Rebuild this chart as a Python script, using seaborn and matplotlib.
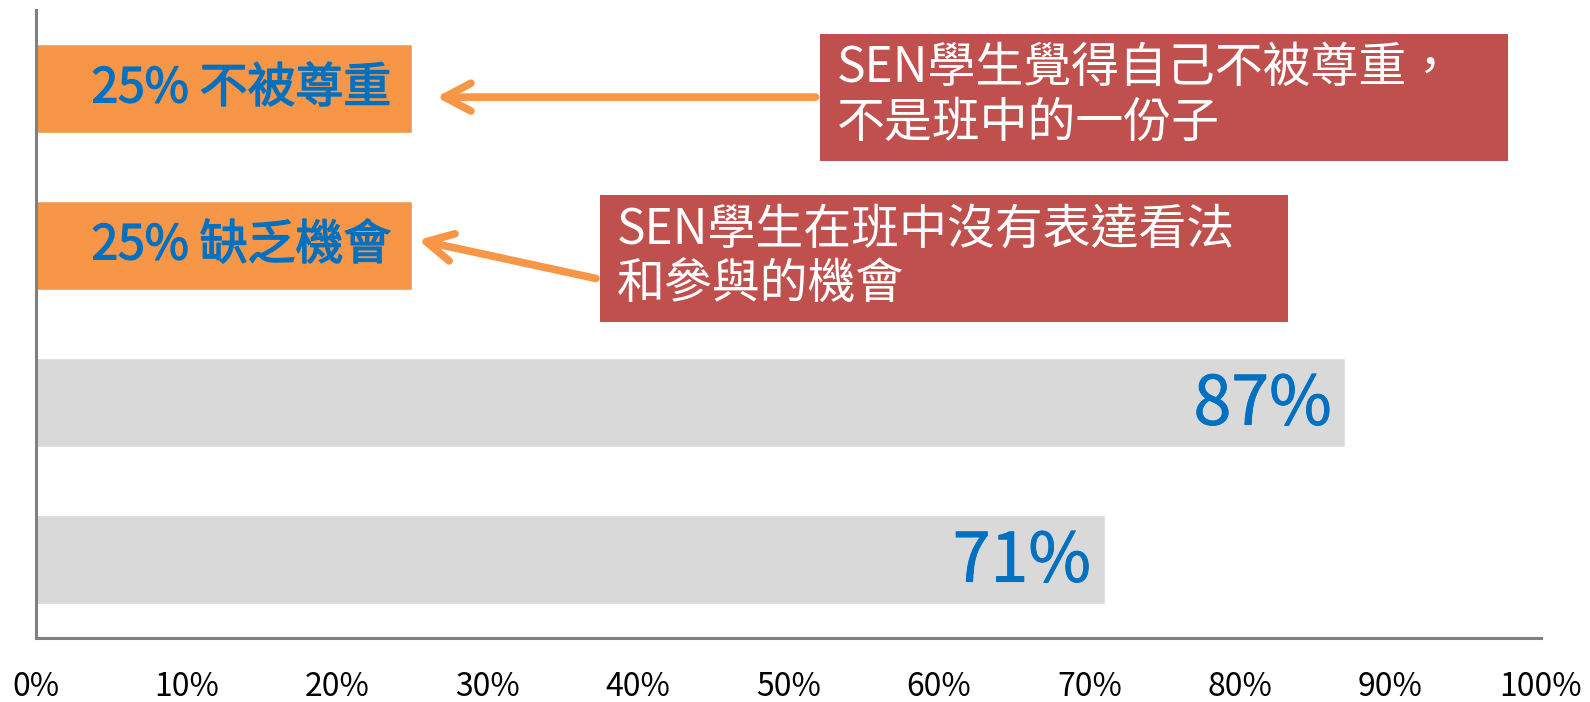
import matplotlib
matplotlib.use("Agg")
import matplotlib.pyplot as plt
import matplotlib.patheffects as pe
from matplotlib.patches import Rectangle
import seaborn as sns
import pandas as pd

# Datos del gráfico
categorias = ["不被尊重", "缺乏機會", "總體A", "總體B"]
valores = [25, 25, 87, 71]
colores = ["#F79646", "#F79646", "#D9D9D9", "#D9D9D9"]
etiquetas = ["25% 不被尊重", "25% 缺乏機會", "87%", "71%"]
ticks_x = [0, 10, 20, 30, 40, 50, 60, 70, 80, 90, 100]
notas = ["SEN學生覺得自己不被尊重，\n不是班中的一份子",
         "SEN學生在班中沒有表達看法\n和參與的機會"]

sns.set_style("white")
plt.rcParams["font.family"] = ["Noto Sans CJK TC", "DejaVu Sans"]

df = pd.DataFrame({"cat": categorias, "valor": valores})

fig = plt.figure(figsize=(15.9, 7.02), dpi=100)
ax = fig.add_axes([36 / 1590, 64 / 702, 1505 / 1590, 628 / 702])

sns.barplot(data=df, x="valor", y="cat", hue="cat", palette=colores,
            legend=False, width=0.57, ax=ax, saturation=1)

ax.set_xlim(0, 100)
ax.set_ylim(3.5, -0.5)
ax.set_xticks(ticks_x)
ax.set_xticklabels([f"{t}%" for t in ticks_x], fontsize=23, color="black")
ax.set_yticks([])
ax.set_xlabel("")
ax.set_ylabel("")
ax.tick_params(axis="x", length=0, pad=24)

for lado in ["top", "right"]:
    ax.spines[lado].set_visible(False)
for lado in ["left", "bottom"]:
    ax.spines[lado].set_color("#808080")
    ax.spines[lado].set_linewidth(2.2)

# Etiquetas dentro de las barras
azul = "#0070C0"
for i, (v, txt) in enumerate(zip(valores, etiquetas)):
    if i < 2:
        ax.text(v - 1.4, i, txt, ha="right", va="center", color=azul,
                fontsize=34.5,
                path_effects=[pe.withStroke(linewidth=1.0, foreground=azul)])
    else:
        ax.text(v - 0.9, i + 0.02, txt, ha="right", va="center", color=azul,
                fontsize=49,
                path_effects=[pe.withStroke(linewidth=0.6, foreground=azul)])

# Cajas de notas
rojo = "#C0504D"
cajas = [(52.1, -0.35, 45.7, 0.81), (37.5, 0.68, 45.7, 0.81)]
for (x0, y0, w, h), nota in zip(cajas, notas):
    ax.add_patch(Rectangle((x0, y0), w, h, facecolor=rojo, edgecolor="none",
                           zorder=3))
    ax.text(x0 + 1.1, y0 + h / 2 - 0.01, nota, ha="left", va="center",
            color="white", fontsize=34.5, linespacing=1.15, zorder=4)

# Flechas
naranja = "#F79646"
flechas = [((51.8, 0.055), (26.6, 0.055)), ((37.2, 1.21), (25.4, 0.965))]
for inicio, fin in flechas:
    ax.annotate("", xy=fin, xytext=inicio,
                arrowprops=dict(arrowstyle="->,head_length=1.9,head_width=1.0",
                                color=naranja, lw=5.5,
                                shrinkA=0, shrinkB=0,
                                capstyle="round", joinstyle="round"),
                zorder=2)

fig.savefig("out.png", dpi=100)
